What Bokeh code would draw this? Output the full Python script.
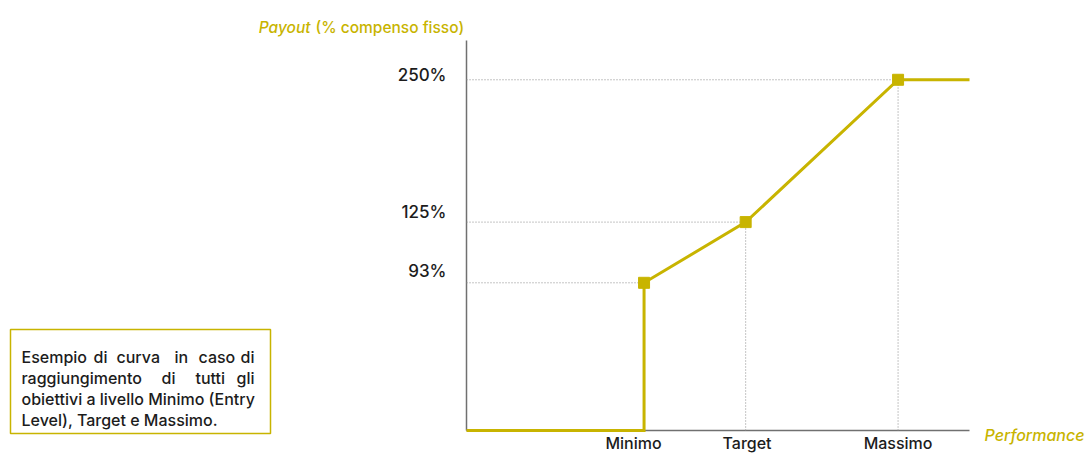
import math
from bokeh.plotting import figure
from bokeh.models import Range1d, Label, LabelSet, BoxAnnotation, ColumnDataSource
from bokeh.core.properties import value
from bokeh.embed import file_html
from bokeh.resources import INLINE

# ---- data ----
LEVELS = ["Minimo", "Target", "Massimo"]
PERF = [35.3, 55.5, 85.8]          # performance position of each level (schematic 0-100 axis)
PERF_START, PERF_END = 0, 100
PAYOUT = [93, 125, 250]            # payout, % of fixed pay
PAYOUT_LABELS = ["93%", "125%", "250%"]
PAYOUT_BELOW_MIN = 0

# ---- layout ----
W, H = 1088, 453
AX_LEFT, AX_RIGHT, AX_TOP, AX_BOTTOM = 466, 969, 40, 430   # pixel box of the axes
Y_FLOOR, Y_TOP = 45.3, 302.7                                # log payout range of that box

YELLOW = "#C8B400"
DARK = "#1c1c1c"
GREY = "#8a8a8a"
AXIS = "#707070"
FONT = "'Inter Medium', Inter"

ux = (AX_RIGHT - AX_LEFT) / (PERF_END - PERF_START)
x_start = PERF_START - AX_LEFT / ux
x_end = PERF_END + (W - AX_RIGHT) / ux
uy = (AX_BOTTOM - AX_TOP) / math.log(Y_TOP / Y_FLOOR)
y_start = math.exp(math.log(Y_FLOOR) - (H - AX_BOTTOM) / uy)
y_end = math.exp(math.log(Y_TOP) + AX_TOP / uy)

p = figure(width=W, height=H, x_range=Range1d(x_start, x_end),
           y_range=Range1d(y_start, y_end), y_axis_type="log",
           output_backend="svg", toolbar_location=None, min_border=0)
p.outline_line_color = None
p.grid.visible = False
p.axis.visible = False

# axes lines
p.segment(x0=[PERF_START, PERF_START], y0=[Y_FLOOR, Y_FLOOR], x1=[PERF_END, PERF_START],
          y1=[Y_FLOOR, Y_TOP], line_color=AXIS, line_width=1.5)

# dotted guides
p.segment(x0=[PERF_START] * len(PAYOUT), y0=PAYOUT, x1=PERF, y1=PAYOUT,
          line_color=GREY, line_width=1, line_dash="1 2")
p.segment(x0=PERF[1:], y0=[Y_FLOOR] * (len(PERF) - 1), x1=PERF[1:], y1=PAYOUT[1:],
          line_color=GREY, line_width=1, line_dash="1 2")

# payout curve
cx = [PERF_START, PERF[0]] + PERF + [PERF_END]
cy = [max(PAYOUT_BELOW_MIN, Y_FLOOR)] * 2 + PAYOUT + [PAYOUT[-1]]
p.line(cx, cy, line_color=YELLOW, line_width=3, line_join="miter")
p.scatter(PERF, PAYOUT, marker="square", size=11, color=YELLOW)

# y labels
ysrc = ColumnDataSource(dict(x=[PERF_START] * 3, y=PAYOUT, t=PAYOUT_LABELS, dy=[6, 4, -1]))
p.add_layout(LabelSet(x="x", y="y", text="t", source=ysrc, x_offset=-20, y_offset="dy",
                      text_align="right", text_baseline="alphabetic",
                      text_font=value(FONT), text_font_size="17px", text_color=DARK))

# x labels
xsrc = ColumnDataSource(dict(x=PERF, y=[Y_FLOOR] * 3, t=LEVELS, dx=[-10.6, 1.4, 0]))
p.add_layout(LabelSet(x="x", y="y", text="t", source=xsrc, x_offset="dx", y_offset=-18,
                      text_align="center", text_baseline="alphabetic",
                      text_font=value(FONT), text_font_size="16px", text_color=DARK))

def lab(text, x, y, align="left", style="normal", color=DARK, size="16px"):
    # x, y: pixels from the left / bottom edge of the plot
    p.add_layout(Label(x=x, y=y, x_units="screen", y_units="screen", text=text,
                       text_align=align, text_baseline="alphabetic", text_font=FONT,
                       text_font_size=size, text_font_style=style, text_color=color))

# axis titles
lab("Payout", 310, 426.3, align="right", style="italic", color=YELLOW, size="15.5px")
lab("(% compenso fisso)", 315, 426.3, color=YELLOW, size="15.5px")
lab("Performance", 984, 19, style="italic", color=YELLOW)

# note box
p.add_layout(BoxAnnotation(left=10, right=270, top=124, bottom=20,
                           left_units="screen", right_units="screen",
                           top_units="screen", bottom_units="screen",
                           fill_color="white", fill_alpha=1.0,
                           line_color=YELLOW, line_alpha=1.0, line_width=1.5))
lab("Esempio", 21, 97)
lab("di", 93, 97)
lab("curva", 116, 97)
lab("in", 174, 97)
lab("caso", 198, 97)
lab("di", 254, 97, align="right")
lab("raggiungimento", 21, 76)
lab("di", 161, 76)
lab("tutti", 195, 76)
lab("gli", 254, 76, align="right")
lab("obiettivi a livello Minimo (Entry", 21, 55)
lab("Level), Target e Massimo.", 21, 34)

open("out.html", "w").write(file_html(p, INLINE))
